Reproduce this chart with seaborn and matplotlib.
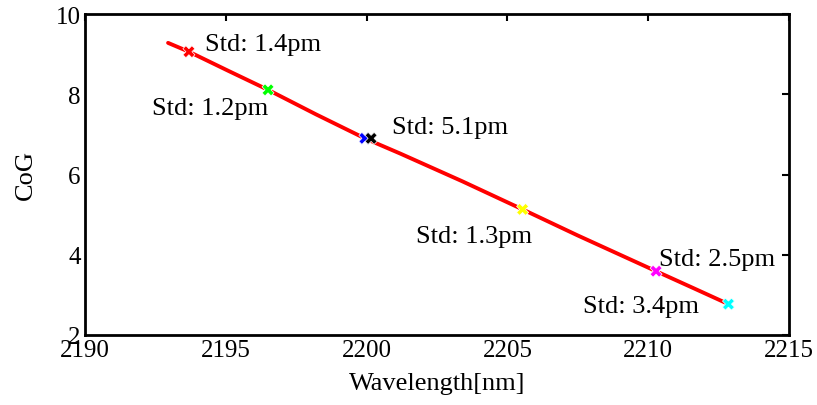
#!/usr/bin/env python3

# Import libraries
import pandas as pd
import matplotlib
matplotlib.use("Agg")
import matplotlib.pyplot as plt
import seaborn as sns

# Data
line_wl = [2192.95, 2193.69, 2195.1, 2196.5, 2198.2, 2199.94,
           2201.2, 2203.4, 2205.54, 2207.5, 2210.28, 2211.6, 2212.85]
line_cog = [9.28, 9.06, 8.58, 8.11, 7.50, 6.90,
            6.52, 5.83, 5.13, 4.48, 3.59, 3.17, 2.77]

mark_wl = [2193.69, 2196.5, 2199.94, 2200.16, 2205.54, 2210.28, 2212.85]
mark_cog = [9.06, 8.11, 6.90, 6.90, 5.13, 3.59, 2.77]
mark_id = ["r", "g", "b", "k", "y", "m", "c"]
mark_colors = ["#ff0000", "#00ff00", "#0000ff", "#000000", "#ffff00", "#ff00ff", "#00ffff"]

labels = ["Std: 1.4pm", "Std: 1.2pm", "Std: 5.1pm", "Std: 1.3pm", "Std: 2.5pm", "Std: 3.4pm"]
label_x = [2194.26, 2192.38, 2200.9, 2201.75, 2210.38, 2207.68]
label_y = [9.25, 7.66, 7.19, 4.46, 3.89, 2.72]

df_line = pd.DataFrame({"Wavelength": line_wl, "CoG": line_cog})
df_mark = pd.DataFrame({"Wavelength": mark_wl, "CoG": mark_cog, "id": mark_id})

sns.set_style("white")
plt.rcParams["font.family"] = ["Liberation Serif", "DejaVu Serif"]
plt.rcParams["font.size"] = 19
plt.rcParams["text.color"] = "black"
plt.rcParams["axes.labelcolor"] = "black"
plt.rcParams["xtick.color"] = "black"
plt.rcParams["ytick.color"] = "black"

fig = plt.figure(figsize=(8.17, 4.06), dpi=100)
ax = fig.add_axes([85 / 817, 1 - 336 / 406, 704 / 817, 321 / 406])

sns.lineplot(data=df_line, x="Wavelength", y="CoG", color="red", lw=2.8,
             sort=False, ax=ax)
sns.scatterplot(data=df_mark, x="Wavelength", y="CoG", hue="id",
                palette=dict(zip(mark_id, mark_colors)), marker="X", s=75,
                linewidth=0.5, legend=False, zorder=3, ax=ax)

# Add text labels
for t, x, y in zip(labels, label_x, label_y):
    ax.text(x, y, t, fontsize=19, va="center", ha="left")

ax.set_xlim(2190, 2215)
ax.set_ylim(2, 10)
ax.set_xticks([2190, 2195, 2200, 2205, 2210, 2215])
ax.set_yticks([2, 4, 6, 8, 10])
ax.tick_params(direction="in", length=5, width=1.5, top=True, right=True,
               labelsize=18, pad=3)
for s in ax.spines.values():
    s.set_linewidth(2)
    s.set_color("black")

ax.set_xlabel("Wavelength[nm]", fontsize=19, labelpad=8)
ax.set_ylabel("CoG", fontsize=19, labelpad=14)

# Save figure
plt.savefig("out.png", dpi=100)
